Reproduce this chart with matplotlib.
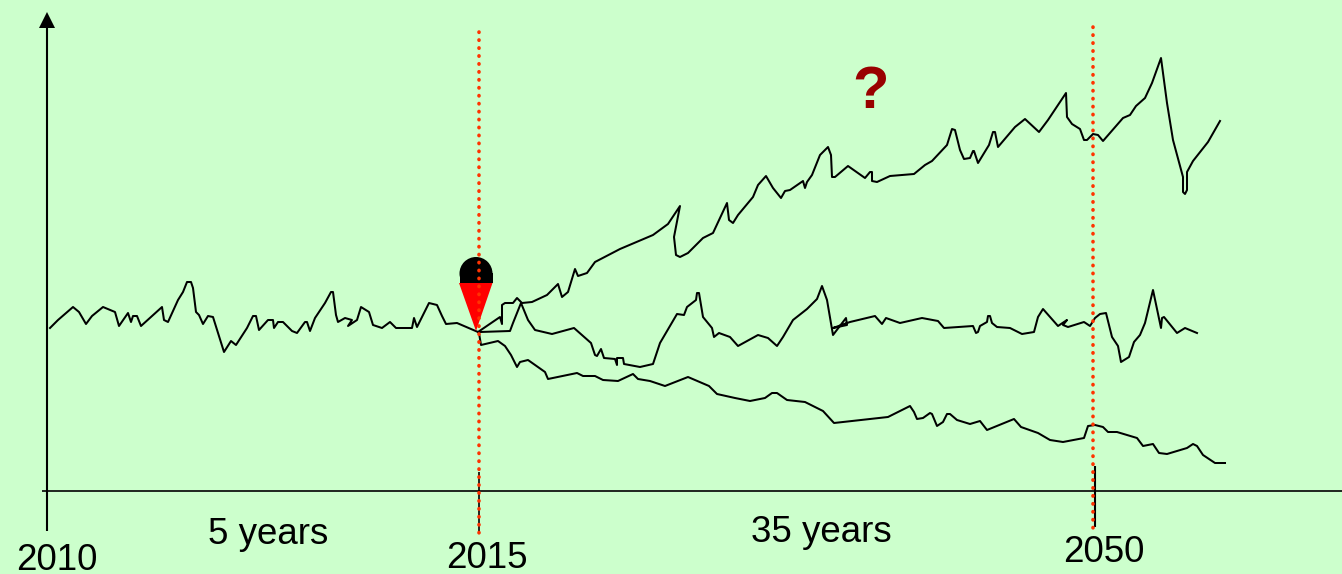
from matplotlib import pyplot as plt
from matplotlib.patches import Polygon, Circle, Rectangle

plt.rcParams['font.family'] = ['Liberation Sans', 'DejaVu Sans']

# values, axes run in picture units
past_x = [50, 58, 73, 79, 86, 92, 103, 115, 119, 128, 131, 133, 137, 141, 162, 164, 168, 178, 183, 187, 191, 193,
          196, 199, 203, 208, 213, 224, 231, 236, 247, 253, 256, 259, 268, 273, 274, 278, 283, 292, 297, 305, 307,
          310, 315, 325, 331, 333, 336, 338, 345, 352, 348, 357, 361, 369, 373, 382, 390, 396, 412, 414, 417, 423,
          429, 437, 442, 446, 457, 478]
past_y = [328, 320, 307, 312, 324, 316, 307, 312, 326, 313, 322, 316, 316, 326, 307, 320, 322, 300, 292, 282, 282,
          288, 312, 315, 324, 316, 317, 352, 341, 345, 328, 316, 316, 330, 320, 320, 328, 322, 322, 331, 333, 322,
          322, 331, 318, 303, 292, 292, 315, 322, 318, 320, 326, 320, 307, 312, 325, 328, 322, 328, 328, 318, 327,
          315, 303, 305, 316, 324, 323, 332]

high_x = [478, 500, 502, 502, 505, 513, 517, 522, 532, 547, 558, 562, 568, 575, 578, 587, 595, 620, 653, 668, 680,
          674, 676, 680, 688, 703, 713, 727, 729, 733, 738, 753, 758, 766, 773, 781, 785, 790, 803, 805, 807, 812,
          820, 828, 831, 832, 835, 848, 865, 870, 872, 872, 877, 890, 914, 925, 932, 947, 952, 955, 960, 964, 970,
          973, 974, 978, 989, 993, 995, 998, 1015, 1025, 1039, 1048, 1060, 1066, 1067, 1072, 1080, 1084, 1087, 1093,
          1098, 1103, 1123, 1130, 1136, 1145, 1152, 1161, 1167, 1173, 1183, 1183, 1185, 1187, 1187, 1193, 1208, 1220]
high_y = [332, 317, 324, 305, 303, 303, 298, 303, 302, 295, 284, 297, 292, 269, 276, 273, 262, 249, 235, 224, 206,
          237, 255, 257, 253, 238, 233, 203, 220, 223, 215, 197, 185, 176, 188, 198, 191, 190, 181, 188, 182, 175,
          155, 147, 155, 177, 177, 166, 178, 172, 172, 181, 182, 176, 174, 165, 161, 145, 129, 130, 150, 159, 158,
          151, 151, 163, 145, 132, 132, 147, 127, 119, 132, 120, 102, 93, 117, 124, 129, 140, 140, 134, 135, 141,
          118, 115, 106, 98, 83, 58, 103, 140, 177, 192, 194, 190, 172, 161, 142, 121]

mid_x = [480, 510, 513, 521, 528, 535, 552, 574, 591, 595, 597, 601, 604, 615, 617, 617, 623, 624, 640, 653, 660,
         677, 684, 687, 696, 697, 699, 703, 712, 714, 719, 730, 738, 758, 768, 777, 783, 793, 807, 817, 822, 827,
         833, 846, 847, 833, 850, 875, 882, 886, 900, 922, 938, 944, 973, 976, 978, 980, 987, 988, 990, 992, 997,
         1010, 1022, 1034, 1038, 1043, 1058, 1067, 1063, 1068, 1084, 1090, 1095, 1100, 1106, 1112, 1118, 1121, 1129,
         1134, 1140, 1145, 1153, 1161, 1162, 1164, 1177, 1185, 1197]
mid_y = [332, 331, 323, 303, 320, 330, 334, 328, 343, 355, 356, 349, 358, 359, 365, 358, 358, 364, 367, 364, 343,
         314, 315, 307, 300, 293, 293, 317, 328, 337, 333, 337, 346, 335, 338, 346, 337, 320, 309, 299, 286, 300,
         335, 318, 325, 328, 322, 316, 324, 318, 323, 318, 321, 328, 326, 333, 332, 326, 322, 316, 316, 323, 327,
         328, 334, 332, 317, 309, 326, 320, 325, 327, 322, 326, 318, 314, 313, 337, 346, 362, 357, 342, 335, 323,
         290, 328, 318, 317, 333, 328, 333]

low_x = [479, 481, 498, 505, 511, 517, 520, 528, 545, 548, 577, 583, 595, 603, 618, 633, 638, 650, 665, 688, 709,
         717, 735, 750, 765, 772, 777, 787, 805, 823, 834, 888, 910, 914, 917, 923, 930, 932, 937, 943, 947, 950,
         957, 970, 980, 987, 1014, 1021, 1038, 1050, 1063, 1084, 1088, 1095, 1103, 1108, 1117, 1137, 1143, 1153,
         1159, 1167, 1187, 1193, 1197, 1203, 1215, 1225]
low_y = [333, 345, 341, 346, 355, 367, 362, 360, 372, 379, 373, 376, 376, 380, 381, 374, 379, 381, 386, 377, 386,
         394, 398, 401, 398, 393, 393, 400, 402, 411, 423, 417, 406, 412, 419, 418, 413, 414, 426, 422, 414, 414,
         420, 424, 421, 430, 419, 427, 433, 440, 442, 438, 426, 425, 427, 432, 432, 438, 446, 444, 453, 454, 448,
         444, 446, 455, 463, 463]

year_labels = ['2010', '2015', '2050']
year_x = [57, 487, 1104]
year_y = [560, 558, 552]
span_labels = ['5 years', '35 years']
span_x = [268, 821]
span_y = [535, 532]
marker_x = 476
marker_top = 283
marker_tip = 331

fig = plt.figure(figsize=(13.42, 5.74), dpi=100, facecolor='#CCFFCC')
ax = fig.add_axes([0, 0, 1, 1])
ax.set_xlim(0, 1342)
ax.set_ylim(574, 0)
ax.axis('off')

# axes drawn by hand, arrow on the vertical one
ax.plot([47, 47], [531, 26], color='black', lw=1.5, solid_capstyle='butt')
ax.add_patch(Polygon([[39, 28], [55, 28], [47, 12]], closed=True, fc='black', ec='none'))
ax.plot([42, 1342], [491, 491], color='black', lw=1.2, solid_capstyle='butt')
ax.plot([479, 479], [472, 533], color='black', lw=1.2, solid_capstyle='butt')
ax.plot([1095, 1095], [466, 527], color='black', lw=1.5, solid_capstyle='butt')

for xs, ys in [(past_x, past_y), (high_x, high_y), (mid_x, mid_y), (low_x, low_y)]:
    ax.plot(xs, ys, color='black', lw=1.45, solid_joinstyle='round')

# pin marker, round black head on a red triangle
ax.add_patch(Circle((marker_x, marker_top - 9.5), 16.5, fc='black', ec='none', zorder=3))
ax.add_patch(Rectangle((marker_x - 16.5, marker_top - 10), 33, 10, fc='black', ec='none', zorder=3))
ax.add_patch(Polygon([[marker_x - 17, marker_top], [marker_x + 16.5, marker_top], [marker_x, marker_tip]],
                     closed=True, fc='red', ec='none', zorder=3))

# dotted lines go over the pin
dots = (0, (0.1, 2.1))
ax.plot([479, 479], [32, 535], color='#FF3300', lw=2.6, ls=dots, dash_capstyle='round', zorder=4)
ax.plot([1093, 1093], [27, 532], color='#FF3300', lw=2.6, ls=dots, dash_capstyle='round', zorder=4)

for lab, x, y in zip(year_labels, year_x, year_y):
    ax.text(x, y, lab, fontsize=26.5, ha='center', va='center', color='black')
for lab, x, y in zip(span_labels, span_x, span_y):
    ax.text(x, y, lab, fontsize=26.5, ha='center', va='center', color='black')
ax.text(871, 92, '?', fontsize=43, fontweight='bold', ha='center', va='center', color='#990000')

fig.savefig('out.png', dpi=100, facecolor=fig.get_facecolor())
